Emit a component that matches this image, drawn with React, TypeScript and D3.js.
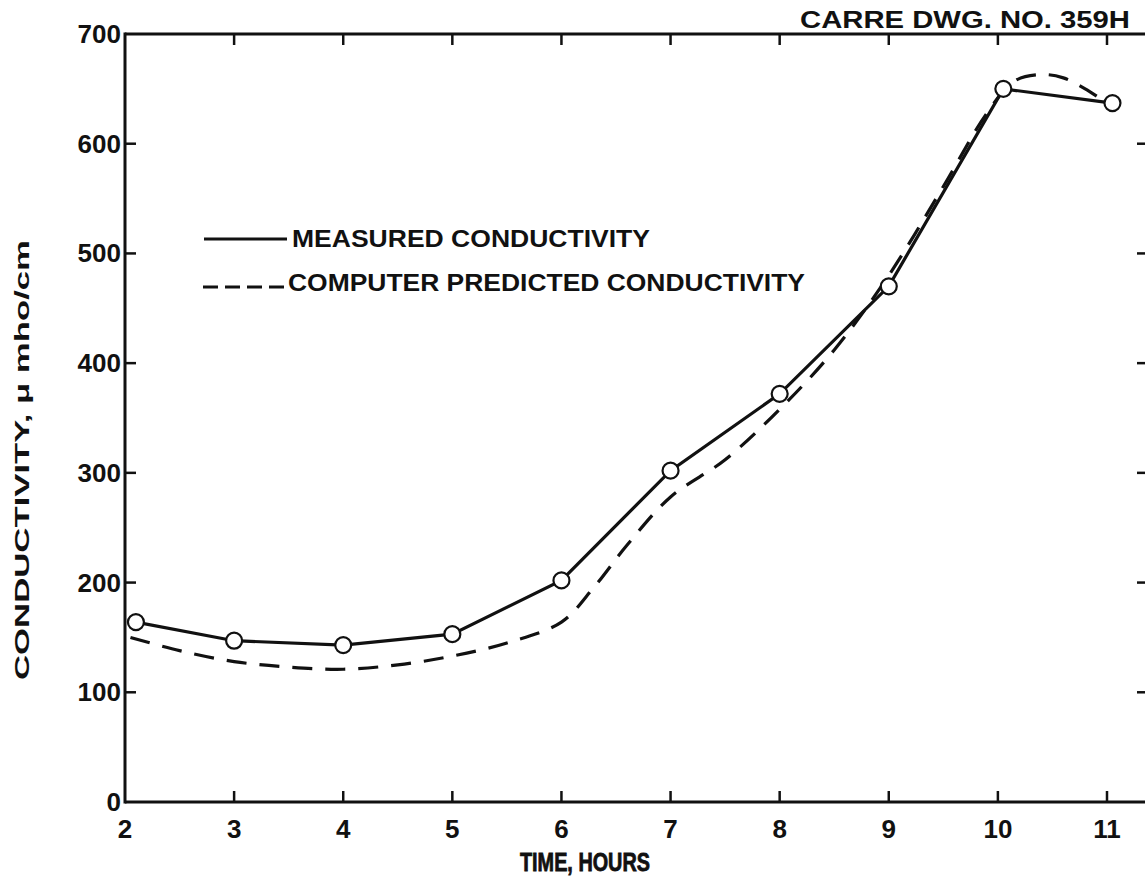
import React from "react";
import * as d3 from "d3";

// Measured conductivity (time in hours, conductivity in µmho/cm)
const measuredHours = [2.1, 3, 4, 5, 6, 7, 8, 9, 10.05, 11.05];
const measuredValues = [164, 147, 143, 153, 202, 302, 372, 470, 650, 637];

// Computer predicted conductivity, traced as a smooth curve
const predictedHours = [2.05, 2.5, 3, 3.5, 4, 4.5, 5, 5.5, 6, 6.3, 6.6, 7, 7.5, 8, 8.5, 9, 9.5, 9.9, 10.15, 10.4, 10.6, 10.8, 11];
const predictedValues = [150, 138, 128, 123, 121, 125, 133, 145, 164, 196, 234, 278, 312, 358, 412, 480, 561, 628, 657, 663, 660, 650, 637];

const xTicks = [2, 3, 4, 5, 6, 7, 8, 9, 10, 11];
const yTicks = [0, 100, 200, 300, 400, 500, 600, 700];

const W = 1145;
const H = 882;
const left = 125;
const top = 34;
const bottom = 802;
const frameRight = 1148;
const ink = "#111";
const font = "'Liberation Sans', Arial, Helvetica, sans-serif";

export default function App() {
  const x = d3.scaleLinear().domain([2, 11]).range([left, 1107]);
  const y = d3.scaleLinear().domain([0, 700]).range([bottom, top]);

  const measured = measuredHours.map((h, i) => [h, measuredValues[i]] as [number, number]);
  const predicted = predictedHours.map((h, i) => [h, predictedValues[i]] as [number, number]);

  const solidLine = d3.line<[number, number]>().x((d) => x(d[0])).y((d) => y(d[1]));
  const smoothLine = d3
    .line<[number, number]>()
    .x((d) => x(d[0]))
    .y((d) => y(d[1]))
    .curve(d3.curveCatmullRom.alpha(0.5));

  const tickLen = 11;

  return (
    <svg
      width={W}
      height={H}
      viewBox={`0 0 ${W} ${H}`}
      style={{ position: "absolute", left: 0, top: 0, background: "#fff" }}
    >
      <rect x={0} y={0} width={W} height={H} fill="#fff" />

      {/* frame */}
      <g stroke={ink} strokeWidth={3} fill="none">
        <line x1={left} y1={top} x2={frameRight} y2={top} />
        <line x1={left} y1={bottom} x2={frameRight} y2={bottom} />
        <line x1={left} y1={top - 1.5} x2={left} y2={bottom + 1.5} />
        <line x1={frameRight} y1={top} x2={frameRight} y2={bottom} />
      </g>

      {/* x ticks on bottom and top, y ticks on both sides, all pointing inward */}
      <g stroke={ink} strokeWidth={2.5}>
        {xTicks.slice(1).map((t) => (
          <g key={`xt${t}`}>
            <line x1={x(t)} x2={x(t)} y1={bottom} y2={bottom - tickLen} />
            <line x1={x(t)} x2={x(t)} y1={top} y2={top + tickLen} />
          </g>
        ))}
        {yTicks.slice(1, -1).map((t) => (
          <g key={`yt${t}`}>
            <line x1={left} x2={left + tickLen} y1={y(t)} y2={y(t)} />
            <line x1={frameRight} x2={frameRight - tickLen} y1={y(t)} y2={y(t)} />
          </g>
        ))}
      </g>

      {/* tick labels */}
      <g fontFamily={font} fontWeight={700} fontSize={26} fill={ink}>
        {xTicks.map((t) => (
          <text key={`xl${t}`} x={x(t)} y={838} textAnchor="middle">
            {t}
          </text>
        ))}
        {yTicks.map((t) => (
          <text key={`yl${t}`} x={left - 4} y={y(t) + 9} textAnchor="end">
            {t}
          </text>
        ))}
      </g>

      {/* axis titles */}
      <text
        x={585}
        y={871}
        textAnchor="middle"
        fontFamily={font}
        fontWeight={700}
        fontSize={25}
        fill={ink}
        stroke={ink}
        strokeWidth={0.8}
        textLength={130}
        lengthAdjust="spacingAndGlyphs"
      >
        TIME, HOURS
      </text>
      <text
        transform={`translate(29, 460) rotate(-90)`}
        textAnchor="middle"
        fontFamily={font}
        fontWeight={700}
        fontSize={21}
        fill={ink}
        textLength={440}
        lengthAdjust="spacingAndGlyphs"
      >
        CONDUCTIVITY, μ mho/cm
      </text>

      {/* drawing number */}
      <text
        x={800}
        y={28}
        fontFamily={font}
        fontWeight={700}
        fontSize={24}
        fill={ink}
        textLength={330}
        lengthAdjust="spacingAndGlyphs"
      >
        CARRE DWG. NO. 359H
      </text>

      {/* legend */}
      <g fontFamily={font} fontWeight={700} fontSize={24} fill={ink}>
        <line x1={204} x2={287} y1={239} y2={239} stroke={ink} strokeWidth={3} />
        <text x={292} y={247} textLength={358} lengthAdjust="spacingAndGlyphs">
          MEASURED CONDUCTIVITY
        </text>
        <line
          x1={203}
          x2={286}
          y1={287}
          y2={287}
          stroke={ink}
          strokeWidth={3}
          strokeDasharray="15 7"
        />
        <text x={288} y={291} textLength={517} lengthAdjust="spacingAndGlyphs">
          COMPUTER PREDICTED CONDUCTIVITY
        </text>
      </g>

      {/* predicted curve */}
      <path
        d={smoothLine(predicted) ?? ""}
        fill="none"
        stroke={ink}
        strokeWidth={3.2}
        strokeDasharray="20 13"
      />

      {/* measured line with open circles */}
      <path d={solidLine(measured) ?? ""} fill="none" stroke={ink} strokeWidth={3.2} />
      {measured.map((d, i) => (
        <circle
          key={`m${i}`}
          cx={x(d[0])}
          cy={y(d[1])}
          r={8}
          fill="#fff"
          stroke={ink}
          strokeWidth={2.2}
        />
      ))}
    </svg>
  );
}
